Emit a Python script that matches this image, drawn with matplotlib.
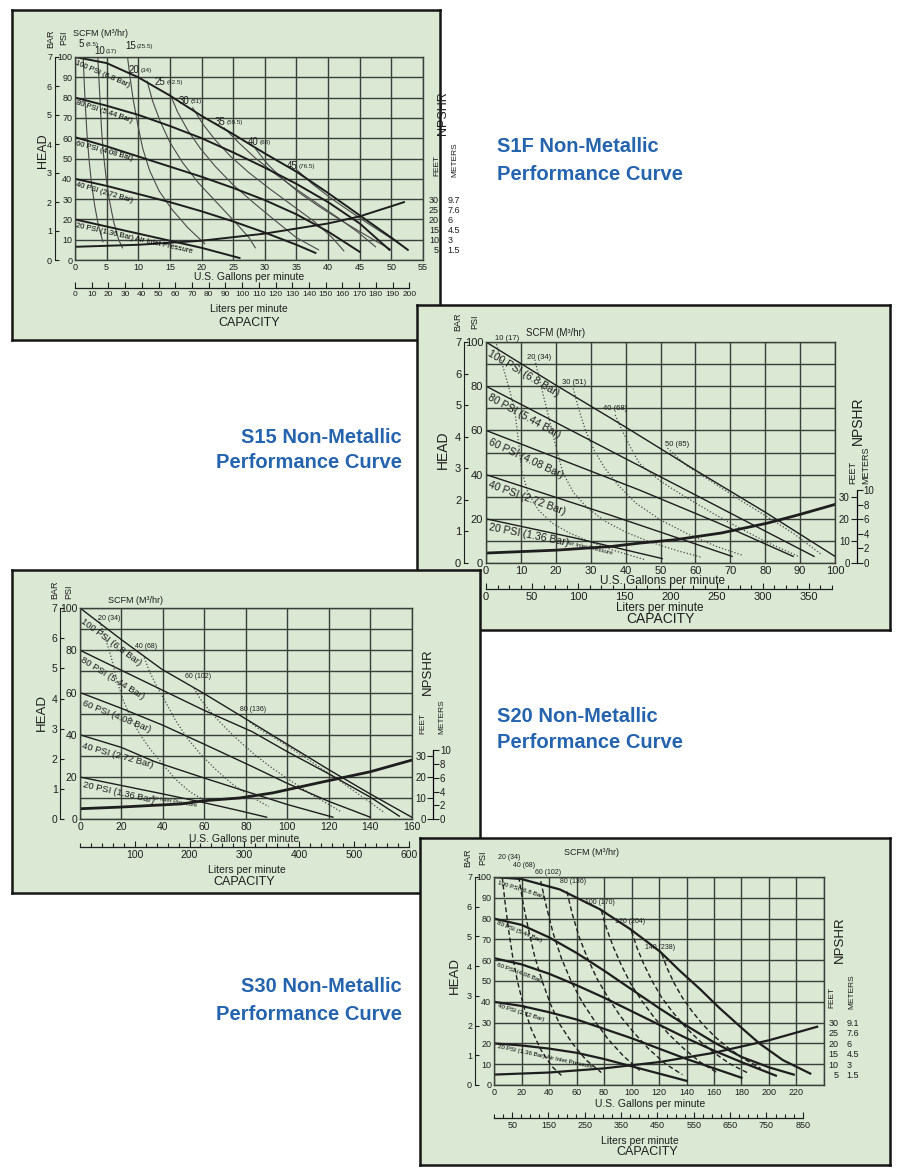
import matplotlib
matplotlib.use('Agg')
import matplotlib.pyplot as plt
from matplotlib import font_manager
import numpy as np

W, H = 900, 1172

_names = {f.name for f in font_manager.fontManager.ttflist}
NARROW = 'Liberation Sans Narrow' if 'Liberation Sans Narrow' in _names else 'Liberation Sans'
plt.rcParams['font.family'] = [NARROW, 'DejaVu Sans']

PANEL = '#dae8d4'
INK = '#1e1e1e'
GRID = '#3a3f3a'
THIN = '#4a4a4a'
BLUE = '#2463ad'

# ---------------- data ----------------
bar_ticks = [0, 1, 2, 3, 4, 5, 6, 7]
psi_ticks = [0, 10, 20, 30, 40, 50, 60, 70, 80, 90, 100]

# S1F
s1f_gal_ticks = [0, 5, 10, 15, 20, 25, 30, 35, 40, 45, 50, 55]
s1f_lpm_ticks = [0, 10, 20, 30, 40, 50, 60, 70, 80, 90, 100, 110, 120, 130, 140, 150, 160, 170, 180, 190, 200]
s1f_ft_ticks = [5, 10, 15, 20, 25, 30]
s1f_m_labels = ['1.5', '3', '4.5', '6', '7.6', '9.7']
s1f_p100 = [(0, 100), (5, 97), (10, 90), (15, 81), (20, 71), (25, 62), (30, 52.5), (35, 43.5), (40, 33), (45, 22), (50, 11), (52.6, 5)]
s1f_p80 = [(0, 80), (5, 76), (10, 71.5), (15, 66), (20, 60), (25, 53), (30, 45.5), (35, 37.5), (40, 28.5), (45, 18), (49.7, 5)]
s1f_p60 = [(0, 60.5), (5, 56), (10, 51), (15, 46), (20, 41), (25, 35.5), (30, 29.5), (35, 22.5), (40, 14), (45, 4)]
s1f_p40 = [(0, 40), (5, 36.5), (10, 32.5), (15, 28.5), (20, 24), (25, 19), (30, 13.5), (35, 7.5), (38, 3.5)]
s1f_p20 = [(0, 20), (5, 16.5), (10, 13), (15, 9.5), (20, 6), (26, 1)]
s1f_npshr = [(0, 6.5), (10, 7.5), (20, 9.5), (30, 13), (40, 18), (45, 21.5), (52, 28.5)]
s1f_s5 = [(1.3, 100), (1.45, 88), (1.65, 75), (1.9, 62), (2.2, 50), (2.6, 38), (3.1, 27), (3.7, 17), (4.4, 9)]
s1f_s10 = [(3.6, 100), (3.8, 88), (4.0, 76), (4.2, 64), (4.5, 52), (4.9, 41), (5.4, 30), (6.1, 19), (6.9, 10), (7.5, 6)]
s1f_s15 = [(8.3, 100), (8.7, 90), (9.2, 79), (9.9, 67), (10.7, 55), (11.8, 44), (13.3, 34), (15.3, 25), (17.8, 16), (20.5, 8)]
s1f_s20 = [(11.4, 88), (12.3, 78), (13.5, 68), (15, 58), (17, 48), (19.5, 38), (22.5, 28), (25.5, 18), (27.5, 11), (28.5, 6)]
s1f_s25 = [(15, 82), (16.2, 73), (17.8, 64), (19.8, 55), (22.2, 46), (25, 37), (28.3, 28), (31.8, 19), (35, 11), (38.5, 5)]
s1f_s30 = [(18.6, 75), (20.2, 67), (22.2, 59), (24.6, 51), (27.5, 43), (30.8, 35), (34.3, 27), (37.8, 19), (40.5, 11.5), (42.5, 4.5)]
s1f_s35 = [(23.6, 65), (25.8, 58), (28.4, 50.5), (31.4, 43), (34.7, 35.5), (38.2, 28), (41.7, 20.5), (44.8, 13.5), (47.5, 6.5)]
s1f_s40 = [(28.6, 54.5), (30.5, 47), (32.8, 40), (35.5, 33), (38.5, 26.5), (41.8, 20), (45, 14), (48, 8.5), (50, 5)]
s1f_s45 = [(35.2, 44), (37.5, 37.5), (40.2, 31), (43.2, 24.5), (46.3, 18), (49.3, 12), (51.5, 7.5)]
s1f_scfm_num = ['5', '10', '15', '20', '25', '30', '35', '40', '45']
s1f_scfm_m3 = ['(8.5)', '(17)', '(25.5)', '(34)', '(42.5)', '(51)', '(59.5)', '(68)', '(76.5)']

# S15
s15_gal_ticks = [0, 10, 20, 30, 40, 50, 60, 70, 80, 90, 100]
s15_lpm_major = [0, 50, 100, 150, 200, 250, 300, 350]
s15_lpm_labels = ['0', '50', '100', '150', '200', '250', '300', '350']
s15_lpm_minor = [12.5, 25, 37.5, 62.5, 75, 87.5, 112.5, 125, 137.5, 162.5, 175, 187.5, 212.5, 225, 237.5,
                 262.5, 275, 287.5, 312.5, 325, 337.5, 362.5, 375]
s15_p100 = [(0, 100), (20, 80.5), (40, 61.5), (60, 42), (80, 23), (100, 3)]
s15_p80 = [(0, 80), (25, 59.5), (50, 39), (75, 18.5), (94, 3)]
s15_p60 = [(0, 60), (22, 46.5), (44, 33), (66, 18.5), (88, 3)]
s15_p40 = [(0, 40), (35, 22), (70.5, 3)]
s15_p20 = [(0, 20), (25, 11.5), (50.5, 2)]
s15_npshr = [(0, 4.5), (20, 5.8), (36, 7.5), (44, 9), (54.6, 10.6), (67.5, 13.6), (80.5, 18), (90, 22), (100, 26.5)]
s15_s10 = [(3, 99), (5, 88), (6.8, 78), (8.3, 68.5), (9.3, 55), (10.2, 42), (12, 32), (15, 24), (19, 18), (24, 13.5), (30, 9.5), (37, 5.5), (45.5, 1.5)]
s15_s20 = [(14, 92), (15.8, 80), (17.8, 67), (19.8, 54), (22, 41), (25, 32), (29, 25), (34, 19), (40, 14), (47, 9.5), (55, 5.5), (62, 2.5)]
s15_s30 = [(25, 79), (26.5, 70), (28.5, 60), (31, 51), (34, 43), (38, 35), (43, 27), (50, 19.5), (58, 13), (66, 7.5), (73.5, 3.5)]
s15_s40 = [(37, 67), (39, 60), (41.5, 52), (44, 45), (50, 37), (57, 30), (65, 22.5), (73, 15.5), (81, 9), (89.5, 3)]
s15_s50 = [(52, 52), (57.5, 44), (65, 36.5), (72.8, 28.5), (80, 21.5), (88, 13.5), (96, 4)]
s15_scfm_text = ['10 (17)', '20 (34)', '30 (51)', '40 (68)', '50 (85)']
npshr_ft_ticks = [0, 10, 20, 30]
npshr_m_ticks = [0, 2, 4, 6, 8, 10]

# S20
s20_gal_ticks = [0, 20, 40, 60, 80, 100, 120, 140, 160]
s20_lpm_major = [100, 200, 300, 400, 500, 600]
s20_lpm_minor = [0, 20, 40, 60, 80, 120, 140, 160, 180, 220, 240, 260, 280, 320, 340, 360, 380,
                 420, 440, 460, 480, 520, 540, 560, 580]
s20_p100 = [(0, 100), (20, 85), (39.5, 71), (59, 60), (80, 47.5), (100, 35.5), (120, 23.5), (140, 12), (160, 1)]
s20_p80 = [(0, 80), (20, 70.5), (40, 61), (60, 51.5), (83, 41.5), (100, 32), (120, 21.5), (140, 10.5), (154, 1.5)]
s20_p60 = [(0, 60), (20, 52.5), (40, 44.5), (60, 35.5), (83, 25), (100, 17), (120, 8.5), (140, 1)]
s20_p40 = [(0, 40), (20, 34), (36, 27.3), (60, 19.5), (83, 12.3), (100, 7), (122, 1)]
s20_p20 = [(0, 20), (20, 16), (40, 12), (57, 8.5), (75, 4.5), (90, 1)]
s20_npshr = [(0, 5), (20, 5.8), (49, 7.3), (60, 8.8), (77, 10.1), (93, 12.5), (117.6, 17.8), (140, 22.5), (160, 28)]
s20_s20 = [(9, 95), (12.5, 85), (15.5, 75), (18, 65), (21, 56), (25, 47), (29, 40), (34, 33), (40, 26), (46, 19), (53, 13), (60, 9)]
s20_s40 = [(31, 76.5), (33.5, 70), (37, 63), (41, 56), (46, 47), (52, 38), (58, 31), (65, 24), (73, 17), (82, 11), (91, 6)]
s20_s60 = [(55, 62), (58, 57), (62, 52), (67, 46.5), (72, 41.5), (78, 36), (85, 30), (93, 24), (102, 18), (112, 11.5), (120, 7), (126, 3.5)]
s20_s80 = [(82, 46), (86, 43), (92, 39.5), (102, 33.5), (112, 27), (122, 20.5), (132, 13.5), (140, 8), (147, 3)]
s20_scfm_text = ['20 (34)', '40 (68)', '60 (102)', '80 (136)']

# S30
s30_gal_ticks = [0, 20, 40, 60, 80, 100, 120, 140, 160, 180, 200, 220, 240]
s30_gal_labels = ['0', '20', '40', '60', '80', '100', '120', '140', '160', '180', '200', '220', '']
s30_lpm_major = [50, 150, 250, 350, 450, 550, 650, 750, 850]
s30_lpm_minor = [0, 25, 75, 100, 125, 175, 200, 225, 275, 300, 325, 375, 400, 425, 475, 500, 525,
                 575, 600, 625, 675, 700, 725, 775, 800, 825]
s30_m_labels = ['1.5', '3', '4.5', '6', '7.6', '9.1']
s30_p100 = [(0, 100), (20, 99), (48, 94), (77, 84.5), (99, 75), (121, 64), (135, 55), (150, 46), (164, 37), (180, 27.5), (193, 20), (210, 12), (230, 5.5)]
s30_p80 = [(0, 80), (20, 77), (40, 71), (60, 63.5), (80, 55), (100, 46), (120, 37), (140, 28.5), (160, 20.5), (180, 13.5), (200, 8.5), (218, 5)]
s30_p60 = [(0, 61), (20, 58), (40, 53.5), (60, 48), (80, 42), (100, 35.5), (120, 29), (140, 22.5), (160, 16.5), (180, 11), (205, 4.5)]
s30_p40 = [(0, 40), (20, 38), (40, 35), (60, 31.5), (80, 27), (100, 22.5), (120, 17.5), (140, 12.5), (160, 8), (180, 3.5)]
s30_p20 = [(0, 20), (20, 19), (40, 17.5), (60, 15.5), (80, 12.5), (100, 9), (120, 5.5), (140, 2)]
s30_npshr = [(0, 5), (40, 6), (80, 8), (120, 11), (160, 15.5), (200, 21.5), (235, 28)]
s30_s20 = [(6, 100), (8, 88), (10.5, 75), (13.5, 62), (17, 50), (21.5, 38), (27, 27), (34, 17), (42, 9), (50, 4)]
s30_s40 = [(18, 100), (21, 88), (25, 75), (29.5, 62), (35, 50), (41, 39), (48, 29), (57, 20), (67, 12), (78, 6)]
s30_s60 = [(34, 98), (38, 86), (43, 73), (49, 61), (56, 50), (64, 40), (73, 31), (83, 22), (94, 14), (106, 7)]
s30_s80 = [(53, 93), (57, 82), (62, 71), (68, 61), (75, 51), (83, 42), (92, 33), (102, 25), (113, 17), (125, 10), (137, 5)]
s30_s100 = [(78, 84), (82, 75), (87, 66), (93, 57), (100, 48), (108, 40), (117, 32), (127, 24.5), (138, 17.5), (150, 11), (162, 6)]
s30_s120 = [(100, 74), (104, 66), (109, 58), (115, 50), (122, 42), (130, 35), (139, 28), (149, 21.5), (160, 15.5), (172, 10), (184, 6)]
s30_s140 = [(122, 63), (126, 56), (131, 49), (137, 42), (144, 35.5), (152, 29), (161, 23), (171, 17.5), (182, 12.5), (194, 8)]
s30_scfm_text = ['20 (34)', '40 (68)', '60 (102)', '80 (136)', '100 (170)', '120 (204)', '140 (238)']

pressure_text = ['100 PSI (6.8 Bar)', '80 PSI (5.44 Bar)', '60 PSI (4.08 Bar)', '40 PSI (2.72 Bar)', '20 PSI (1.36 Bar)']


# ---------------- helpers ----------------
def xy(pts):
    a = np.asarray(pts, dtype=float)
    return a[:, 0], a[:, 1]


def to_fig(x0, y0, x1, y1):
    return [x0 / W, 1 - y1 / H, (x1 - x0) / W, (y1 - y0) / H]


fig = plt.figure(figsize=(9, 11.72), dpi=100)
fig.patch.set_facecolor('white')


def base(z, box, plot, xmax, xticks, xlabels, ylabels, fs):
    bg = fig.add_axes(to_fig(*box), zorder=z)
    bg.set_facecolor(PANEL)
    bg.set_xlim(box[0], box[2])
    bg.set_ylim(box[3], box[1])
    bg.set_xticks([])
    bg.set_yticks([])
    for s in bg.spines.values():
        s.set_linewidth(1.8)
        s.set_color('#151515')
    ax = fig.add_axes(to_fig(*plot), zorder=z + 1)
    ax.patch.set_visible(False)
    ax.set_xlim(0, xmax)
    ax.set_ylim(0, 100)
    ax.set_xticks(xticks, xlabels)
    ax.set_yticks(psi_ticks, ylabels)
    ax.grid(True, color=GRID, lw=1.0)
    ax.set_axisbelow(True)
    ax.tick_params(length=0, labelsize=fs, pad=2, colors=INK)
    for s in ax.spines.values():
        s.set_color(GRID)
        s.set_linewidth(1.0)
    return bg, ax


def bar_axis(ax, loc, fs):
    b = ax.secondary_yaxis(loc, functions=(lambda p: p * 0.07, lambda v: v / 0.07))
    b.set_yticks(bar_ticks)
    b.tick_params(direction='in', length=3, width=0.8, labelsize=fs, pad=2, colors=INK)
    b.spines['left'].set_linewidth(0.8)
    b.spines['left'].set_color(INK)


def lpm_axis(ax, loc, major, labels, minor, span, fs):
    lp = ax.secondary_xaxis(loc, functions=(lambda g: g * 3.785, lambda v: v / 3.785))
    lp.set_xticks(major, labels)
    if minor:
        lp.set_xticks(minor, minor=True)
    lp.tick_params(which='both', direction='in', length=4, width=0.8, labelsize=fs, pad=2, colors=INK)
    lp.tick_params(which='minor', length=3)
    lp.spines['bottom'].set_bounds(*span)
    lp.spines['bottom'].set_linewidth(0.9)
    lp.spines['bottom'].set_color(INK)


def npshr_spine(ax, loc, fs):
    f = ax.secondary_yaxis(loc)
    f.set_alignment('left')
    f.set_yticks(npshr_ft_ticks)
    f.tick_params(direction='out', length=4, width=0.8, labelsize=fs, pad=1, colors=INK)
    f.spines['left'].set_bounds(0, 32.8)
    f.spines['left'].set_linewidth(0.8)
    m = ax.secondary_yaxis(loc, functions=(lambda v: v * 0.3048, lambda v: v / 0.3048))
    m.set_yticks(npshr_m_ticks)
    m.tick_params(direction='out', length=4, width=0.8, labelsize=fs, pad=1, colors=INK)
    m.spines['right'].set_bounds(0, 10)
    m.spines['right'].set_linewidth(0.8)


def npshr_text(ax, loc, ft_ticks, m_labels, fs):
    f = ax.secondary_yaxis(loc)
    f.set_alignment('left')
    f.set_yticks(ft_ticks)
    f.tick_params(length=0, labelsize=fs, pad=1, colors=INK)
    f.spines['left'].set_visible(False)
    m = ax.secondary_yaxis(loc)
    m.set_yticks(ft_ticks, m_labels)
    m.tick_params(length=0, labelsize=fs, pad=5, colors=INK)
    m.spines['right'].set_visible(False)


def titles(bg, t):
    # t: dict of page-pixel positions
    for key, (x, y, rot, fs) in t.items():
        bg.text(x, y, key, rotation=rot, fontsize=fs, ha='center', va='center', color=INK)


def line_labels(ax, pos, rots, fs, extra=None):
    for txt, (x, y), r in zip(pressure_text, pos, rots):
        ax.text(x, y, txt, rotation=r, rotation_mode='anchor', ha='left', va='top', fontsize=fs, color=INK)
    if extra:
        x, y, r, efs = extra
        ax.text(x, y, 'Air Inlet Pressure', rotation=r, rotation_mode='anchor', ha='left', va='top',
                fontsize=efs, color=INK)


# ---------------- S1F panel ----------------
bg, ax = base(10, (12, 10, 440, 340), (75, 57, 423, 260), 55, s1f_gal_ticks,
              [str(v) for v in s1f_gal_ticks], [str(v) for v in psi_ticks], 6.5)
for s in (s1f_s5, s1f_s10, s1f_s15, s1f_s20, s1f_s25, s1f_s30, s1f_s35, s1f_s40, s1f_s45):
    ax.plot(*xy(s), color=THIN, lw=0.8)
for p in (s1f_p100, s1f_p80, s1f_p60, s1f_p40, s1f_p20):
    ax.plot(*xy(p), color=INK, lw=1.4)
ax.plot(*xy(s1f_npshr), color=INK, lw=1.4)
bar_axis(ax, -0.058, 6.5)
lpm_axis(ax, -0.14, s1f_lpm_ticks, [str(v) for v in s1f_lpm_ticks], None, (0, 200), 6)
npshr_text(ax, 1.05, s1f_ft_ticks, s1f_m_labels, 6.5)
lab_pos = [(0.6, 106.4), (3.0, 103), (7.9, 105.6), (8.5, 93.6), (12.6, 87.8), (16.4, 78.5), (22.1, 68.1), (27.3, 58.3), (33.4, 46.3)]
for (x, y), n, m3 in zip(lab_pos, s1f_scfm_num, s1f_scfm_m3):
    t = ax.text(x, y, n, fontsize=7, ha='left', va='center', color=INK, clip_on=False)
    ax.annotate(m3, xy=(1, 0.45), xycoords=t, xytext=(1, 0), textcoords='offset points',
                fontsize=4.5, ha='left', va='center', color=INK)
ax.text(0.3, 98.5, pressure_text[0], rotation=-23, rotation_mode='anchor', ha='left', va='top', fontsize=5.5)
ax.text(0.3, 79.2, pressure_text[1], rotation=-18, rotation_mode='anchor', ha='left', va='top', fontsize=5.5)
ax.text(0.3, 59.0, pressure_text[2], rotation=-15, rotation_mode='anchor', ha='left', va='top', fontsize=5.5)
ax.text(0.3, 39.0, pressure_text[3], rotation=-16, rotation_mode='anchor', ha='left', va='top', fontsize=5.5)
ax.text(0.3, 18.4, pressure_text[4] + ' Air Inlet Pressure', rotation=-12.6, rotation_mode='anchor',
        ha='left', va='top', fontsize=5.5)
titles(bg, {
    'BAR': (51, 39, 90, 6.5), 'PSI': (64, 38, 90, 6.5),
    'SCFM (M³/hr)': (101, 34, 0, 6.5), 'HEAD': (43, 151, 90, 9),
    'U.S. Gallons per minute': (249, 277, 0, 7.5), 'Liters per minute': (249, 309, 0, 7.5),
    'CAPACITY': (249, 323, 0, 9), 'NPSHR': (443, 113, 90, 9),
    'FEET': (437, 165, 90, 6), 'METERS': (455, 160, 90, 6),
})

# ---------------- S15 panel ----------------
bg, ax = base(20, (417, 305, 890, 630), (486, 342, 835, 563), 100, s15_gal_ticks,
              [str(v) for v in s15_gal_ticks], [str(v) if v % 20 == 0 else '' for v in psi_ticks], 8)
for s in (s15_s10, s15_s20, s15_s30, s15_s40, s15_s50):
    ax.plot(*xy(s), color=THIN, lw=0.9, ls=(0, (1, 1.6)))
for p in (s15_p100, s15_p80, s15_p60, s15_p40, s15_p20):
    ax.plot(*xy(p), color=INK, lw=1.0)
ax.plot(*xy(s15_npshr), color=INK, lw=2.0)
bar_axis(ax, -0.063, 8)
lpm_axis(ax, -0.118, s15_lpm_major, s15_lpm_labels, s15_lpm_minor, (0, 375), 8)
npshr_spine(ax, 1.062, 7)
for (x, y), t in zip([(2.6, 101.8), (11.7, 92.8), (21.8, 81.9), (33.5, 69.7), (51.3, 53.4)], s15_scfm_text):
    ax.text(x, y, t, fontsize=5.5, ha='left', va='center', color=INK, clip_on=False)
line_labels(ax, [(1.4, 97.1), (1.4, 77.2), (1.4, 57.2), (1.4, 37.6), (1.2, 18.4)],
            [-30.8, -28.7, -25, -20, -11.3], 7.6, (23.1, 10.4, -13, 4.5))
titles(bg, {
    'BAR': (458, 322, 90, 6.5), 'PSI': (475, 322, 90, 6.5),
    'SCFM (M³/hr)': (556, 333, 0, 7), 'HEAD': (443, 450, 90, 10),
    'U.S. Gallons per minute': (662, 581, 0, 8.5), 'Liters per minute': (660, 608, 0, 8.5),
    'CAPACITY': (660, 619, 0, 10), 'NPSHR': (858, 421, 90, 10),
    'FEET': (853, 472, 90, 6.5), 'METERS': (866, 465, 90, 6.5),
})

# ---------------- S20 panel ----------------
bg, ax = base(30, (12, 570, 480, 893), (80, 608, 411.7, 819.3), 160, s20_gal_ticks,
              [str(v) for v in s20_gal_ticks], [str(v) if v % 20 == 0 else '' for v in psi_ticks], 7.5)
for s in (s20_s20, s20_s40, s20_s60, s20_s80):
    ax.plot(*xy(s), color=THIN, lw=0.9, ls=(0, (1, 1.6)))
for p in (s20_p100, s20_p80, s20_p60, s20_p40, s20_p20):
    ax.plot(*xy(p), color=INK, lw=1.0)
ax.plot(*xy(s20_npshr), color=INK, lw=2.0)
bar_axis(ax, -0.059, 7.5)
lpm_axis(ax, -0.131, s20_lpm_major, [str(v) for v in s20_lpm_major], s20_lpm_minor, (0, 600), 7.5)
npshr_spine(ax, 1.064, 7)
for (x, y), t in zip([(8.7, 94.9), (26.6, 81.8), (50.7, 67.4), (77.3, 51.8)], s20_scfm_text):
    ax.text(x, y, t, fontsize=5, ha='left', va='center', color=INK, clip_on=False)
line_labels(ax, [(2.3, 96), (1.8, 77.4), (2.3, 56.9), (1.8, 36.8), (1.8, 18.6)],
            [-36.6, -31.6, -21.8, -15.6, -12.7], 6.8, (34.8, 11.5, -10, 4.3))
titles(bg, {
    'BAR': (55, 590, 90, 6.5), 'PSI': (69, 592, 90, 6.5),
    'SCFM (M³/hr)': (136, 600, 0, 6.5), 'HEAD': (42, 712, 90, 9.5),
    'U.S. Gallons per minute': (244, 839, 0, 7.5), 'Liters per minute': (247, 870, 0, 7.5),
    'CAPACITY': (244, 882, 0, 9), 'NPSHR': (428, 672, 90, 9.5),
    'FEET': (423, 723, 90, 6), 'METERS': (442, 717, 90, 6),
})

# ---------------- S30 panel ----------------
bg, ax = base(40, (420, 838, 890, 1165), (494, 877, 824, 1085), 240, s30_gal_ticks,
              s30_gal_labels, [str(v) for v in psi_ticks], 6.5)
for s in (s30_s20, s30_s40, s30_s60, s30_s80, s30_s100, s30_s120, s30_s140):
    ax.plot(*xy(s), color=INK, lw=1.0, ls=(0, (3.5, 2)))
for p in (s30_p100, s30_p80, s30_p60, s30_p40, s30_p20):
    ax.plot(*xy(p), color=INK, lw=1.6)
ax.plot(*xy(s30_npshr), color=INK, lw=1.6)
bar_axis(ax, -0.058, 6.5)
lpm_axis(ax, -0.159, s30_lpm_major, [str(v) for v in s30_lpm_major], s30_lpm_minor, (0, 850), 6.5)
npshr_text(ax, 1.048, s1f_ft_ticks, s30_m_labels, 6.5)
for (x, y), t in zip([(2.9, 109.6), (13.8, 105.3), (29.8, 102.4), (48, 97.6), (66.2, 87.5), (88, 78.4), (109.8, 66.3)],
                     s30_scfm_text):
    ax.text(x, y, t, fontsize=5, ha='left', va='center', color=INK, clip_on=False)
ax.text(2.9, 98.6, pressure_text[0], rotation=-17, rotation_mode='anchor', ha='left', va='top', fontsize=4.5)
ax.text(2.9, 79.3, pressure_text[1], rotation=-22, rotation_mode='anchor', ha='left', va='top', fontsize=4.5)
ax.text(2.9, 59.1, pressure_text[2], rotation=-20, rotation_mode='anchor', ha='left', va='top', fontsize=4.5)
ax.text(2.9, 39.4, pressure_text[3], rotation=-17, rotation_mode='anchor', ha='left', va='top', fontsize=4.5)
ax.text(2.9, 19.7, pressure_text[4] + ' Air Inlet Pressure', rotation=-12, rotation_mode='anchor',
        ha='left', va='top', fontsize=4.5)
titles(bg, {
    'BAR': (468, 858, 90, 6.5), 'PSI': (483, 858, 90, 6.5),
    'SCFM (M³/hr)': (592, 852, 0, 6.5), 'HEAD': (455, 975, 90, 9.5),
    'U.S. Gallons per minute': (650, 1104, 0, 7.5), 'Liters per minute': (640, 1141, 0, 7.5),
    'CAPACITY': (647, 1152, 0, 9), 'NPSHR': (840, 940, 90, 9.5),
    'FEET': (832, 997, 90, 6), 'METERS': (852, 992, 90, 6),
})

# ---------------- page titles ----------------
tkw = dict(color=BLUE, fontsize=14.5, fontweight='bold', va='center', zorder=100)
fig.text(497 / W, 1 - 147 / H, 'S1F Non-Metallic', ha='left', **tkw)
fig.text(497 / W, 1 - 175 / H, 'Performance Curve', ha='left', **tkw)
fig.text(402 / W, 1 - 437 / H, 'S15 Non-Metallic', ha='right', **tkw)
fig.text(402 / W, 1 - 463 / H, 'Performance Curve', ha='right', **tkw)
fig.text(497 / W, 1 - 716 / H, 'S20 Non-Metallic', ha='left', **tkw)
fig.text(497 / W, 1 - 743 / H, 'Performance Curve', ha='left', **tkw)
fig.text(402 / W, 1 - 987 / H, 'S30 Non-Metallic', ha='right', **tkw)
fig.text(402 / W, 1 - 1014 / H, 'Performance Curve', ha='right', **tkw)

fig.savefig('out.png', dpi=100)
